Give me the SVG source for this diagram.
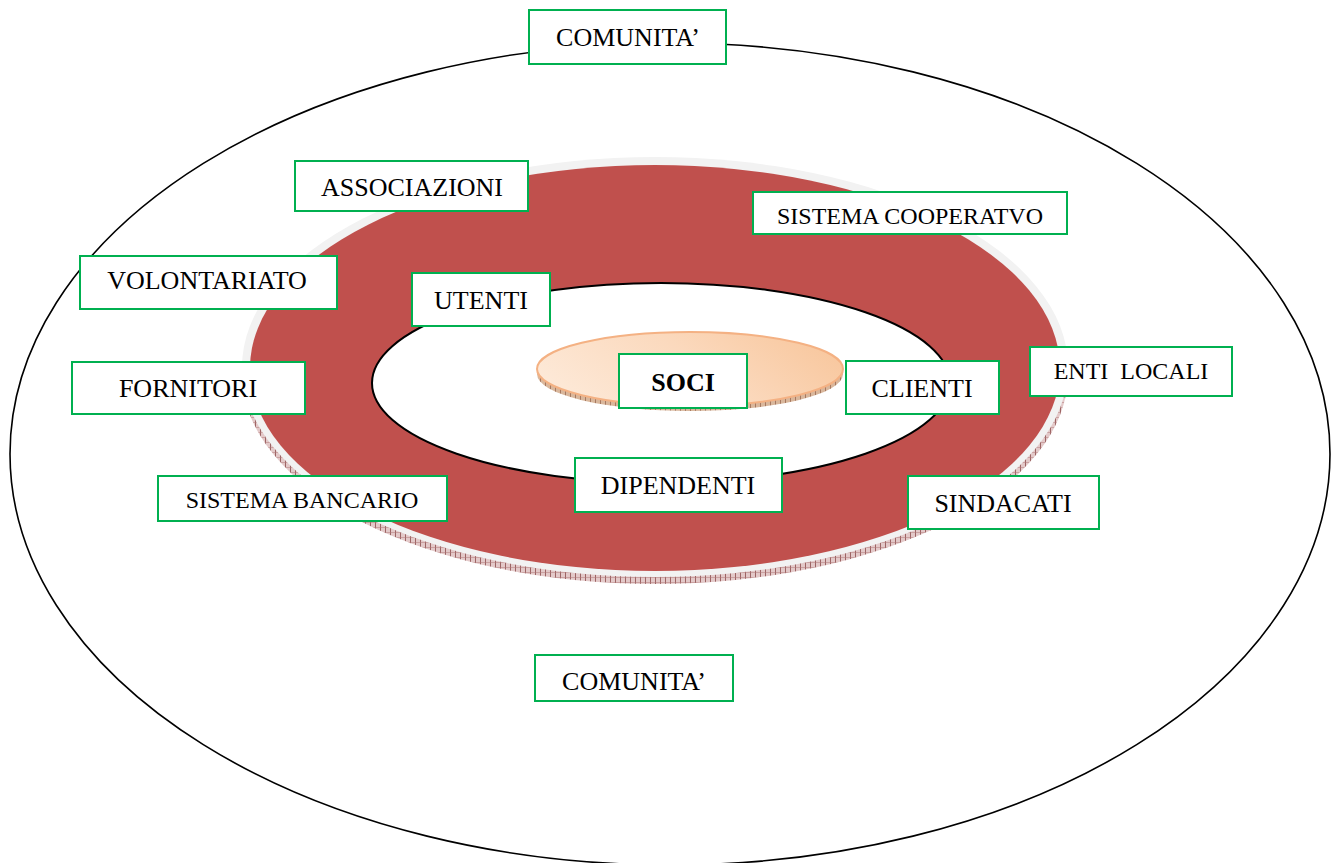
<svg xmlns="http://www.w3.org/2000/svg" width="1331" height="863" viewBox="0 0 1331 863">
  <defs>
    <style>
      .box { fill: #ffffff; stroke: #00b050; stroke-width: 2; }
      .lbl { font-family: "Liberation Serif", "Times New Roman", serif; font-size: 26px; fill: #000000; text-anchor: middle; }
      .sm { font-size: 24px; }
      .bold { font-weight: bold; }
    </style>
    <pattern id="hatch" width="5" height="5" patternUnits="userSpaceOnUse">
      <rect width="5" height="5" fill="#e3c9c9"/>
      <line x1="0.5" y1="0" x2="0.5" y2="5" stroke="#8c4a4a" stroke-width="0.8"/>
      <line x1="0" y1="2.5" x2="5" y2="2.5" stroke="#b07878" stroke-width="0.5"/>
    </pattern>
    <pattern id="hatch2" width="5" height="5" patternUnits="userSpaceOnUse">
      <rect width="5" height="5" fill="#d9b79c"/>
      <line x1="0.5" y1="0" x2="0.5" y2="5" stroke="#9a6a50" stroke-width="0.8"/>
    </pattern>
    <linearGradient id="peach" x1="0" y1="0.5" x2="1" y2="0.2">
      <stop offset="0" stop-color="#fde8d6"/>
      <stop offset="0.5" stop-color="#fbd9bd"/>
      <stop offset="1" stop-color="#f8c69c"/>
    </linearGradient>
  </defs>

  <rect width="1331" height="863" fill="#ffffff"/>

  <g id="background">
    <ellipse id="community" cx="670" cy="454" rx="660" ry="411" fill="#ffffff" stroke="#000000" stroke-width="1.6"/>
    <ellipse cx="655" cy="374" rx="413" ry="210" fill="url(#hatch)"/>
    <ellipse cx="655" cy="367" rx="413" ry="210" fill="#f2f2f2"/>
    <ellipse id="ring" cx="655" cy="368" rx="405" ry="203" fill="#c0504d"/>
    <ellipse id="hole" cx="661" cy="383" rx="289" ry="100" fill="#ffffff" stroke="#000000" stroke-width="2"/>
    <ellipse cx="690" cy="374" rx="153" ry="37" fill="url(#hatch2)"/>
    <ellipse id="core" cx="690" cy="369" rx="153" ry="37" fill="url(#peach)" stroke="#f4b183" stroke-width="2"/>
  </g>

  <g id="connectors"></g>

  <g id="n-comunita-top">
    <rect class="box" x="529" y="10" width="197" height="54"/>
    <text class="lbl" x="628" y="46">COMUNITA’</text>
  </g>
  <g id="n-associazioni">
    <rect class="box" x="295" y="161" width="233" height="50"/>
    <text class="lbl" x="412" y="196">ASSOCIAZIONI</text>
  </g>
  <g id="n-sistema-cooperativo">
    <rect class="box" x="753" y="192" width="314" height="42"/>
    <text class="lbl sm" x="910" y="224">SISTEMA COOPERATVO</text>
  </g>
  <g id="n-volontariato">
    <rect class="box" x="80" y="256" width="257" height="53"/>
    <text class="lbl" x="207" y="289">VOLONTARIATO</text>
  </g>
  <g id="n-utenti">
    <rect class="box" x="412" y="273" width="138" height="53"/>
    <text class="lbl" x="481" y="309">UTENTI</text>
  </g>
  <g id="n-soci">
    <rect class="box" x="619" y="354" width="128" height="54"/>
    <text class="lbl bold" x="683" y="391">SOCI</text>
  </g>
  <g id="n-clienti">
    <rect class="box" x="846" y="361" width="153" height="53"/>
    <text class="lbl" x="922" y="397">CLIENTI</text>
  </g>
  <g id="n-enti-locali">
    <rect class="box" x="1030" y="347" width="202" height="49"/>
    <text class="lbl sm" x="1131" y="379" xml:space="preserve">ENTI  LOCALI</text>
  </g>
  <g id="n-fornitori">
    <rect class="box" x="72" y="362" width="233" height="52"/>
    <text class="lbl" x="188" y="397">FORNITORI</text>
  </g>
  <g id="n-dipendenti">
    <rect class="box" x="575" y="458" width="207" height="54"/>
    <text class="lbl" x="678" y="494">DIPENDENTI</text>
  </g>
  <g id="n-sindacati">
    <rect class="box" x="908" y="476" width="191" height="53"/>
    <text class="lbl" x="1003" y="512">SINDACATI</text>
  </g>
  <g id="n-sistema-bancario">
    <rect class="box" x="158" y="476" width="289" height="45"/>
    <text class="lbl sm" x="302" y="508">SISTEMA BANCARIO</text>
  </g>
  <g id="n-comunita-bottom">
    <rect class="box" x="535" y="655" width="198" height="46"/>
    <text class="lbl" x="634" y="690">COMUNITA’</text>
  </g>
</svg>
